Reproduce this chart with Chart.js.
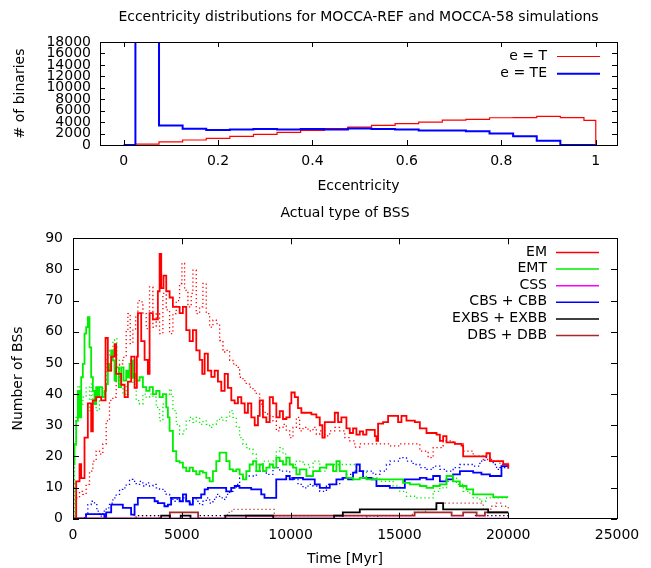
<!DOCTYPE html>
<html>
<head>
<meta charset="utf-8">
<script src="https://cdn.jsdelivr.net/npm/chart.js@4.4.1/dist/chart.umd.min.js"></script>
<style>
  html, body { margin: 0; padding: 0; background: #fff; }
  #wrap { position: relative; width: 651px; height: 568px; }
  #c1 { position: absolute; left: 0; top: 0; }
  #c2 { position: absolute; left: 0; top: 200px; }
</style>
</head>
<body>
<div id="wrap">
  <canvas id="c1" width="651" height="200"></canvas>
  <canvas id="c2" width="651" height="368"></canvas>
</div>
<script>
// ---------- Top panel: eccentricity histograms (bin left edges, counts) ----------
const eccTickValues = [0, 0.2, 0.4, 0.6, 0.8, 1];
const binTickValues = [0, 2000, 4000, 6000, 8000, 10000, 12000, 14000, 16000, 18000];
const eccT  = [[0.025,170],[0.075,550],[0.125,870],[0.175,1160],[0.225,1500],[0.275,1860],[0.325,2200],[0.375,2550],[0.425,2850],[0.475,3140],[0.525,3430],[0.575,3750],[0.625,4000],[0.675,4350],[0.725,4470],[0.775,4760],[0.825,4800],[0.875,5000],[0.925,4800],[0.975,4300],[1.0,0]];
const eccTE = [[0,0],[0.025,18000],[0.075,3400],[0.125,2850],[0.175,2600],[0.225,2700],[0.275,2800],[0.325,2700],[0.375,2800],[0.425,2700],[0.475,2900],[0.525,2800],[0.575,2700],[0.625,2550],[0.675,2550],[0.725,2400],[0.775,2000],[0.825,1550],[0.875,750],[0.925,0],[0.975,0],[1.0,0]];

// ---------- Bottom panel: number of BSs vs time [Myr] ----------
const timeTickValues = [0, 5000, 10000, 15000, 20000, 25000];
const bssTickValues = [0, 10, 20, 30, 40, 50, 60, 70, 80, 90];
// solid = MOCCA-REF, dotted = MOCCA-58
const emRef = [[0,0],[146,12],[300,17.5],[376,13],[529,26],[682,37],[835,28],[912,38],[1065,39],[1295,38],[1495,58],[1600,47.5],[1755,52],[1909,56],[1985,46.5],[2215,43],[2370,39],[2522,44],[2675,52],[2830,42],[2935,52],[2982,66],[3135,57],[3290,51],[3440,46.5],[3520,66],[3670,64],[3825,64],[3900,73],[3980,85],[4055,74],[4160,78],[4285,73],[4440,71],[4590,68],[4745,68],[4900,66],[5050,68],[5205,60.5],[5360,57],[5510,60.5],[5665,54],[5820,51],[5940,46.5],[6050,53],[6200,47.5],[6355,45.5],[6510,47.5],[6660,44],[6815,41],[6970,46.5],[7120,42],[7275,38],[7430,37],[7580,39],[7735,37],[7890,34],[8040,37],[8195,32.5],[8350,30],[8500,33],[8580,38],[8730,32.5],[8885,31],[9040,39],[9190,37],[9345,32.5],[9500,34.5],[9650,32],[9805,32.5],[9960,37],[10035,40.5],[10190,39],[10340,35.5],[10495,34],[10725,34],[10955,33.5],[11185,32.5],[11340,30],[11460,26],[11570,31],[11800,31],[12030,34],[12180,31],[12335,32.5],[12565,29],[12720,27.5],[12870,29],[13025,27],[13180,28],[13330,27],[13485,28.5],[13715,28.5],[13870,26.5],[13945,25],[14020,30.5],[14250,31],[14480,33],[14790,33],[14940,31],[15095,33],[15325,31.5],[15710,31],[15940,29],[16245,27.5],[16705,27],[16860,25],[17010,26.5],[17165,24.5],[17550,24],[17855,23.5],[17930,20],[18390,20],[18930,20],[19000,21],[19160,18.5],[19620,18.5],[19770,17.5],[20000,16]];
const em58 = [[0,0],[146,6.7],[300,8.8],[452,7.8],[605,11],[759,15.3],[912,18.5],[1065,21.7],[1219,20.7],[1372,24],[1525,31.4],[1678,38],[1832,39],[1985,45.4],[2138,49.7],[2292,51.8],[2445,60.5],[2522,65.8],[2629,56.2],[2752,60.5],[2875,64.7],[2982,70],[3089,69.6],[3212,65.8],[3365,61],[3518,74.4],[3672,61.5],[3825,65.8],[3978,59.4],[4131,72.3],[4285,67],[4438,59.4],[4591,65.8],[4745,70],[4898,75.5],[5005,82],[5128,73.3],[5281,68],[5434,72.3],[5511,79.8],[5664,65.8],[5818,68],[5971,75.5],[6124,65.8],[6278,61.5],[6431,63.7],[6584,62.6],[6738,57.2],[6891,53.5],[7044,54],[7198,50.8],[7351,49.7],[7504,48.6],[7657,45.4],[7811,44.3],[7964,43.2],[8117,42.2],[8271,41.1],[8424,40],[8577,36.8],[8730,34.1],[8884,33.6],[9037,33],[9190,31.4],[9344,28.2],[9497,29.3],[9650,30.3],[9804,28.2],[9957,26],[10110,29.3],[10264,32.5],[10417,28.2],[10570,29.3],[10800,28.2],[11030,29.3],[11184,27.1],[11337,28.2],[11567,26.6],[11797,28.2],[12027,29.3],[12257,28.2],[12487,26],[12717,25],[12947,23],[13180,24],[13638,24],[14098,24],[14558,23.4],[15018,24],[15478,24],[15938,21.7],[16322,19.6],[16552,22.8],[17011,25],[17471,24],[17931,21.7],[18391,20.1],[18851,19],[19310,18.5],[19617,17.4],[20000,18]];
const emtRef = [[0,0],[23,17.5],[69,24],[146,31.4],[222,41],[299,32.5],[376,45.4],[452,49.7],[529,59.4],[605,61.5],[682,64.7],[759,55],[835,45.4],[912,41],[989,36.8],[1065,42.2],[1142,39],[1219,42.2],[1341,39],[1448,41],[1525,43.2],[1602,49.7],[1678,47.5],[1755,54],[1832,50.8],[1909,44.3],[1985,48.6],[2108,42.2],[2215,48.6],[2322,44.3],[2445,47.5],[2522,45.4],[2598,49.7],[2675,50.8],[2752,45.4],[2829,46.5],[2905,44.3],[3058,45.4],[3212,42.2],[3365,41],[3518,42.2],[3672,40],[3825,41],[3978,39],[4131,40],[4285,35.7],[4361,32.5],[4438,28.2],[4591,21.7],[4745,18.5],[4898,18],[5051,16.4],[5204,15.3],[5358,16.4],[5511,15.3],[5664,14.2],[5818,15.3],[5971,14.8],[6124,13.1],[6278,12],[6431,15.3],[6584,18.5],[6738,21.2],[6891,21.2],[7044,18.5],[7198,15.8],[7351,15.3],[7504,15.8],[7657,14.2],[7811,12.6],[7964,15.3],[8117,17.4],[8271,18.5],[8424,15.3],[8577,17.4],[8730,15.3],[8884,16.4],[9037,17.4],[9190,16.4],[9344,19.6],[9497,18.5],[9650,17.4],[9804,19.6],[9957,17.4],[10110,16.4],[10264,14.2],[10419,15.8],[10726,13.7],[11032,15.3],[11339,16.4],[11646,17.4],[11952,15.3],[12105,18.5],[12259,15.3],[12565,13.1],[12872,12.6],[13179,13.1],[13485,12.6],[14405,12.6],[14864,12.6],[15171,11.5],[15478,11],[15938,10.5],[16245,9.9],[16552,10.5],[16858,11],[17165,13.7],[17471,12],[17778,10.5],[18085,9.4],[18391,7.8],[19004,7.8],[19310,6.9],[20000,6.9]];
const emt58 = [[0,0],[69,22.8],[146,32.5],[222,42.7],[299,33.6],[376,36.8],[452,39],[605,42.2],[759,34.7],[835,43.2],[912,36.8],[1065,34.7],[1219,39],[1372,42.2],[1525,51.8],[1678,54],[1832,57.2],[1909,57.8],[2016,50.8],[2138,43.2],[2292,40],[2445,43.2],[2598,46.5],[2752,43.2],[2905,37.9],[3058,36.8],[3212,40],[3365,39],[3518,40],[3672,39],[3825,35.7],[3978,31.4],[4131,36.8],[4285,40],[4438,41.6],[4514,40],[4591,34.7],[4745,30.3],[4898,27.1],[5051,28.2],[5204,31.4],[5358,32.5],[5511,30.9],[5664,32.5],[5818,30.3],[5971,31.4],[6124,30.3],[6278,29.3],[6431,30.3],[6584,31.4],[6738,32.5],[6891,31.4],[7044,32.5],[7198,34.7],[7351,32.5],[7504,29.3],[7657,26],[7811,23.9],[7964,22.8],[8117,22.3],[8271,20.7],[8424,17.4],[8577,16.4],[8730,18.5],[8884,18.5],[9037,17.4],[9190,18.5],[9344,21.7],[9497,22.8],[9650,20.7],[9804,18.5],[9957,17.4],[10264,18.5],[10570,17.4],[10877,16.4],[11032,18.5],[11339,15.3],[11646,17.4],[12105,17.4],[12565,17.4],[13025,15.3],[13485,13.1],[14098,12],[14711,10.5],[15018,8.8],[15325,7.2],[15785,6.7],[16245,6.7],[16552,8.8],[16858,9.9],[17165,12],[17471,13.1],[17625,11],[17931,8.8],[18238,7.8],[18391,6.7],[18698,5.6],[19004,6.7],[20000,6.7]];
const cssRef = [[0,0],[20000,0]];
const css58 = [[0,0],[20000,0]];
const cbsRef = [[0,0],[600,1.5],[1440,0.3],[1525,2],[1755,4.5],[2290,3.5],[2670,1.3],[2830,4.5],[2980,6.7],[3750,5.6],[3900,5],[4200,4],[4360,4.5],[4510,6.7],[4900,5.6],[5050,7.8],[5200,5.6],[5360,4.5],[5510,6.7],[5890,7.8],[6050,9.4],[6200,9.9],[7040,8.8],[7270,9.9],[7430,10.5],[7650,9.9],[8190,9.4],[8650,7.8],[8800,6.7],[9340,12.6],[9800,13.7],[9960,12.6],[10110,13.1],[10570,12.6],[11110,11],[11340,9.9],[11800,11],[12105,12.6],[12410,13.1],[12640,12.6],[12870,14.8],[13025,17.4],[13180,15.3],[13330,13.1],[13715,12.6],[13945,10.5],[14560,9.9],[15250,12.6],[15940,13.1],[16245,12.6],[16550,13.7],[16860,12],[17165,12.6],[17470,14.2],[17780,15.3],[18390,14.8],[18770,14.2],[19160,13.7],[19540,13.7],[19690,16.9],[20000,16.4]];
const cbs58 = [[0,0],[529,1.3],[682,4.5],[835,5.6],[989,4.5],[1096,2.4],[1219,0.8],[1372,2.4],[1525,3.5],[1678,5],[1832,6.7],[1985,7.8],[2138,9.4],[2292,9.9],[2445,11],[2598,12.6],[2752,12],[2905,11],[3058,12],[3212,10.5],[3365,11.5],[3518,10.5],[3672,11],[3825,9.9],[3978,9.4],[4131,8.8],[4285,7.8],[4438,6.7],[4591,5.6],[4745,6.2],[4898,5.6],[5051,6.7],[5204,5.6],[5358,5],[5511,6.7],[5664,5.6],[5818,4.5],[5971,5.6],[6124,6.7],[6278,5],[6431,6.2],[6584,7.8],[6738,6.7],[6891,6.2],[7044,7.8],[7198,8.8],[7351,9.9],[7504,11],[7657,13.1],[7964,13.7],[8194,13.7],[8424,15.3],[8730,15.3],[8884,14.2],[9190,16.4],[9497,15.3],[9650,15.3],[9957,13.1],[10187,12.6],[10340,11],[10570,9.9],[10800,11],[11030,10.5],[11339,8.8],[11646,11],[11952,11],[12259,13.1],[12565,14.2],[12872,15.3],[13485,15.3],[13792,14.2],[14098,15.3],[14405,17.4],[14558,18.5],[14711,18.5],[15018,19.6],[15325,18.5],[15632,17.4],[15938,16.4],[16245,15.8],[16552,16.9],[16858,15.8],[17165,15.3],[17471,16.4],[17778,17.4],[18085,17.4],[18391,16.9],[18698,18.5],[18927,19.6],[19157,18.5],[19310,17.4],[19464,15.8],[19617,16.4],[19847,17.4],[20000,16.9]];
const exbsRef = [[0,0],[4050,1],[4450,0],[4950,1],[5400,0],[7000,1],[9200,0],[12000,1],[12400,2],[13180,3],[16700,5],[17010,3],[19080,2],[20000,2]];
const exbs58 = [[0,0],[2900,1],[4000,0],[5800,1],[7000,0],[12400,1],[14000,0],[18500,1],[20000,1]];
const dbsRef = [[0,0],[4450,2],[5750,0],[7950,1],[15700,2],[17400,1],[17930,2],[18550,1],[18930,2],[20000,2]];
const dbs58 = [[0,0],[2800,1],[4000,0],[7100,2],[7300,3],[9100,3],[9250,1],[11000,0],[13500,1],[15600,2],[16200,3],[16700,5],[18700,5],[18850,3],[19200,4],[19450,5],[19700,4],[20000,3]];

const FONT = '"DejaVu Sans", "Liberation Sans", sans-serif';
const toXY = a => a.map(p => ({ x: p[0], y: p[1] }));

// inward tick marks + frame, gnuplot style
const frameTicks = {
  id: 'frameTicks',
  afterDatasetsDraw(chart, args, o) {
    const { ctx, chartArea: a, scales: { x, y } } = chart;
    const L = o.len || 6;
    ctx.save();
    ctx.strokeStyle = '#000';
    ctx.lineWidth = 1;
    ctx.beginPath();
    x.ticks.forEach(t => {
      const px = Math.round(x.getPixelForValue(t.value)) + 0.5;
      ctx.moveTo(px, a.bottom); ctx.lineTo(px, a.bottom - L);
      ctx.moveTo(px, a.top); ctx.lineTo(px, a.top + L);
    });
    y.ticks.forEach(t => {
      const py = Math.round(y.getPixelForValue(t.value)) + 0.5;
      ctx.moveTo(a.left, py); ctx.lineTo(a.left + L, py);
      ctx.moveTo(a.right, py); ctx.lineTo(a.right - L, py);
    });
    ctx.stroke();
    ctx.strokeRect(Math.round(a.left) + 0.5, Math.round(a.top) + 0.5,
                   Math.round(a.right - a.left), Math.round(a.bottom - a.top));
    ctx.restore();
  }
};

// gnuplot-style key inside the plot: text right-aligned, sample line on its right
const insideKey = {
  id: 'insideKey',
  afterDraw(chart, args, o) {
    const ctx = chart.ctx;
    ctx.save();
    ctx.font = '14px ' + FONT;
    ctx.textAlign = 'right';
    ctx.textBaseline = 'middle';
    let i = 0;
    chart.data.datasets.forEach(ds => {
      if (!ds.inKey) return;
      const y = o.y0 + i * o.dy;
      ctx.fillStyle = '#000';
      ctx.fillText(ds.label, o.textRight, y);
      ctx.strokeStyle = ds.borderColor;
      ctx.lineWidth = ds.keyWidth || 1.5;
      ctx.beginPath();
      ctx.moveTo(o.x1, y + 0.5); ctx.lineTo(o.x2, y + 0.5);
      ctx.stroke();
      i++;
    });
    ctx.restore();
  }
};

function axis(opts) {
  return {
    type: 'linear',
    min: opts.min, max: opts.max,
    grid: { display: false, drawTicks: false },
    border: { display: false },
    ticks: {
      autoSkip: false, maxRotation: 0, minRotation: 0, includeBounds: false,
      padding: opts.pad, color: '#000', font: { family: FONT, size: 14 },
      callback: v => String(+Number(v).toFixed(4))
    },
    afterBuildTicks: s => { s.ticks = opts.ticks.map(v => ({ value: v })); },
    afterFit: opts.fit,
    title: {
      display: true, text: opts.title, color: '#000',
      font: { family: FONT, size: 14, weight: 'normal' },
      padding: opts.titlePad
    }
  };
}

// ---------------- top chart ----------------
new Chart(document.getElementById('c1'), {
  type: 'line',
  data: {
    datasets: [
      { label: 'e = T', data: toXY(eccT), borderColor: '#ff0000', borderWidth: 1.2,
        stepped: true, pointRadius: 0, fill: false, order: 2, inKey: true, keyWidth: 1.2 },
      { label: 'e = TE', data: toXY(eccTE), borderColor: '#0000ff', borderWidth: 2,
        stepped: true, pointRadius: 0, fill: false, order: 1, inKey: true, keyWidth: 2 }
    ]
  },
  options: {
    responsive: false, animation: false, devicePixelRatio: 1,
    layout: { padding: { left: 0, right: 34, top: 0, bottom: 0 } },
    scales: {
      x: axis({ min: -0.05, max: 1.045, ticks: eccTickValues, pad: 8,
                fit: s => { s.height = 55; }, title: 'Eccentricity',
                titlePad: { top: 0, bottom: 5.6 } }),
      y: axis({ min: 0, max: 18000, ticks: binTickValues, pad: 9,
                fit: s => { s.width = 100; }, title: '# of binaries',
                titlePad: { top: 11.6, bottom: 0 } })
    },
    plugins: {
      legend: { display: false },
      tooltip: { enabled: false },
      title: {
        display: true, fullSize: false,
        text: 'Eccentricity distributions for MOCCA-REF and MOCCA-58 simulations',
        color: '#000', font: { family: FONT, size: 14, weight: 'normal' },
        padding: { top: 8.6, bottom: 16.6 }
      },
      frameTicks: { len: 5 },
      insideKey: { y0: 56, dy: 17.3, textRight: 547, x1: 557, x2: 600 }
    }
  },
  plugins: [frameTicks, insideKey]
});

// ---------------- bottom chart ----------------
const solid = (label, arr, color, key) => ({
  label, data: toXY(arr), borderColor: color, borderWidth: 1.8, stepped: true,
  pointRadius: 0, fill: false, inKey: key, keyWidth: 1.5
});
const dotted = (label, arr, color) => ({
  label, data: toXY(arr), borderColor: color, borderWidth: 1.3, borderDash: [1.3, 2.7],
  stepped: true, pointRadius: 0, fill: false, inKey: false
});

new Chart(document.getElementById('c2'), {
  type: 'line',
  data: {
    datasets: [
      solid('EM', emRef, '#ff0000', true),
      solid('EMT', emtRef, '#00ee00', true),
      solid('CSS', cssRef, '#ff00ff', true),
      solid('CBS + CBB', cbsRef, '#0000ff', true),
      solid('EXBS + EXBB', exbsRef, '#000000', true),
      solid('DBS + DBB', dbsRef, '#a52a2a', true),
      dotted('EM (MOCCA-58)', em58, '#ff0000'),
      dotted('EMT (MOCCA-58)', emt58, '#00ee00'),
      dotted('CSS (MOCCA-58)', css58, '#ff00ff'),
      dotted('CBS + CBB (MOCCA-58)', cbs58, '#0000ff'),
      dotted('EXBS + EXBB (MOCCA-58)', exbs58, '#000000'),
      dotted('DBS + DBB (MOCCA-58)', dbs58, '#c04040')
    ]
  },
  options: {
    responsive: false, animation: false, devicePixelRatio: 1,
    layout: { padding: { left: 0, right: 34, top: 0, bottom: 0 } },
    scales: {
      x: axis({ min: 0, max: 25000, ticks: timeTickValues, pad: 7.9,
                fit: s => { s.height = 49.3; }, title: 'Time [Myr]',
                titlePad: { top: 0, bottom: 0.6 } }),
      y: axis({ min: 0, max: 90, ticks: bssTickValues, pad: 10,
                fit: s => { s.width = 73; }, title: 'Number of BSs',
                titlePad: { top: 9.6, bottom: 0 } })
    },
    plugins: {
      legend: { display: false },
      tooltip: { enabled: false },
      title: {
        display: true, fullSize: false, text: 'Actual type of BSS',
        color: '#000', font: { family: FONT, size: 14, weight: 'normal' },
        padding: { top: 4.6, bottom: 16.9 }
      },
      frameTicks: { len: 6 },
      insideKey: { y0: 52, dy: 16.6, textRight: 547, x1: 556, x2: 599 }
    }
  },
  plugins: [frameTicks, insideKey]
});
</script>
</body>
</html>
